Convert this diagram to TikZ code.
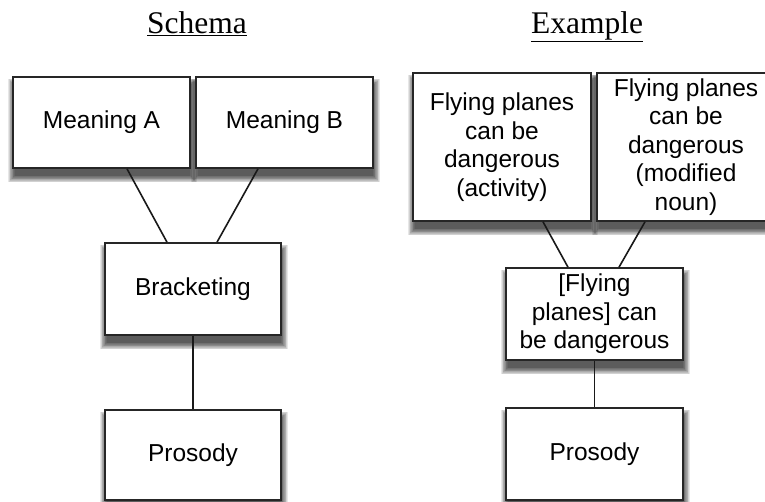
\documentclass[tikz,border=0pt]{standalone}
\usepackage{fontspec}
\setmainfont{Liberation Serif}
\newfontfamily\boxfont{Liberation Sans}
\pgfdeclarelayer{background}
\pgfsetlayers{background,main}
\tikzset{
  box/.style={draw=black!85, line width=1.6pt, fill=white, rectangle, align=center,
    inner sep=2pt, font=\boxfont\fontsize{24.5}{28.5}\selectfont},
  shadowpiece/.style={fill=black, fill opacity=0.095, draw=none},
  link/.style={draw=black!90, line width=1.6pt},
  title/.style={anchor=base, font=\fontsize{31.5}{36}\selectfont, inner sep=0pt}
}
\begin{document}
\begin{tikzpicture}[x=1pt,y=1pt]
\useasboundingbox (0,0) rectangle (765,-501);
\clip (0,0) rectangle (765,-501);
\node[title] (t1) at (197,-33) {\underline{Schema}};
\node[title] (t2) at (587,-33) {\underline{Example}};
% left column
\node[box, minimum width=177pt, minimum height=91pt] (MA) at (101.5,-122.5) {Meaning A};
\node[box, minimum width=177pt, minimum height=91pt] (MB) at (284.5,-122.5) {Meaning B};
\node[box, minimum width=176pt, minimum height=92pt] (BR) at (193,-289) {Bracketing};
\node[box, minimum width=176pt, minimum height=90pt] (PL) at (193,-455) {Prosody};
% right column
\node[box, minimum width=178pt, minimum height=148pt] (E1) at (502,-147) {Flying planes\\can be\\dangerous\\(activity)};
\node[box, minimum width=178pt, minimum height=148pt] (E2) at (686,-147) {Flying planes\\can be\\dangerous\\(modified\\noun)};
\node[box, minimum width=177pt, minimum height=92pt] (EM) at (594.5,-314) {[Flying\\planes] can\\be dangerous};
\node[box, minimum width=177pt, minimum height=92pt] (PR) at (594.5,-454) {Prosody};
% shadows
\begin{pgfonlayer}{background}
\fill[white] (0,0) rectangle (765,-501);
\foreach \n in {MA,MB,BR,PL,E1,E2,EM,PR}{
  \foreach \i in {0,...,9}{
    \fill[shadowpiece] ([shift={(\i*0.75-5+1,\i*0.75-5.5-8)}]\n.south west)
      rectangle ([shift={(-\i*0.75+5+1,-\i*0.75+5.5-8)}]\n.north east);
  }
}
\end{pgfonlayer}
% links
\draw[link] ([xshift=25.5pt]MA.south) -- ([xshift=-26pt]BR.north);
\draw[link] ([xshift=-26.5pt]MB.south) -- ([xshift=24pt]BR.north);
\draw[link] (BR.south) -- (PL.north);
\draw[link] ([xshift=41pt]E1.south) -- ([xshift=-26.5pt]EM.north);
\draw[link] ([xshift=-41pt]E2.south) -- ([xshift=24.5pt]EM.north);
\draw[link] (EM.south) -- (PR.north);
\end{tikzpicture}
\end{document}
